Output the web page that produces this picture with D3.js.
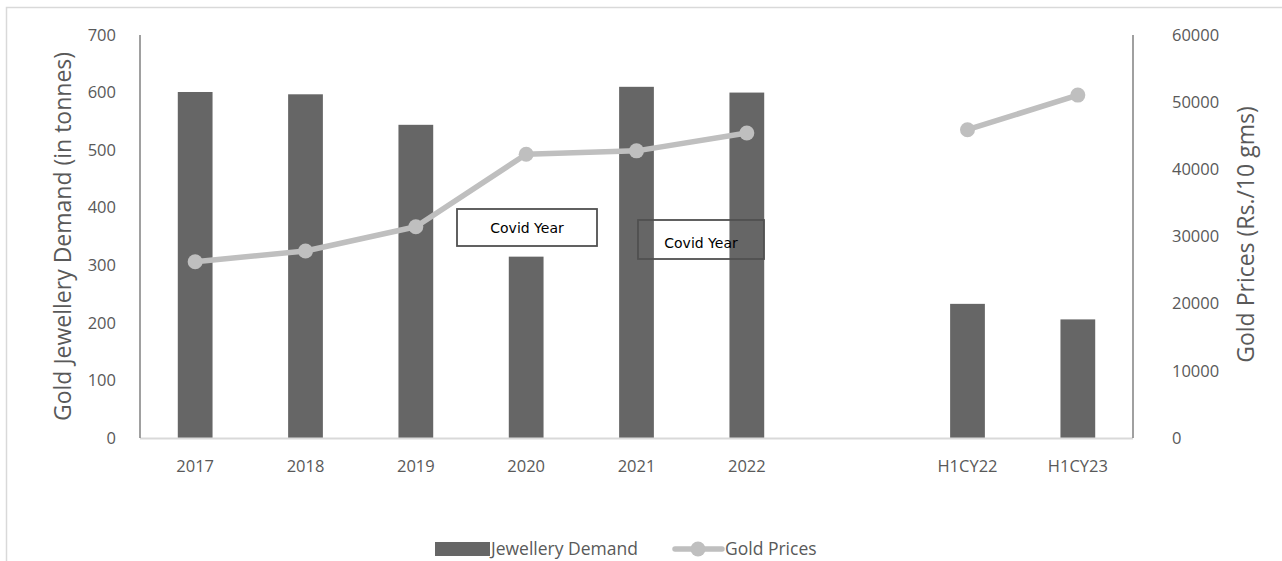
<!DOCTYPE html>
<html>
<head>
<meta charset="utf-8">
<script src="https://cdn.jsdelivr.net/npm/d3@7/dist/d3.min.js"></script>
<style>
  html, body { margin: 0; padding: 0; background: #fff; }
  svg { display: block; font-family: "Open Sans", sans-serif; }
</style>
</head>
<body>
<svg id="chart" width="1282" height="561"></svg>
<script>
// Gold jewellery demand (tonnes) and gold prices (Rs./10 gms)
const categories = ["2017", "2018", "2019", "2020", "2021", "2022", "", "H1CY22", "H1CY23"];
const demand = [601, 597, 544, 315, 610, 600, null, 233, 206];
const prices = [26250, 27850, 31450, 42250, 42750, 45400, null, 45900, 51050];
const demandTicks = [0, 100, 200, 300, 400, 500, 600, 700];
const priceTicks = [0, 10000, 20000, 30000, 40000, 50000, 60000];
const notes = [
  { label: "Covid Year", x0: 457, x1: 597, y0: 209, y1: 246, fill: "#ffffff", ty: 233 },
  { label: "Covid Year", x0: 638, x1: 764, y0: 220, y1: 259, fill: "none", ty: 248 }
];

const W = 1282, H = 561;
const plot = { left: 140, right: 1133, top: 35, bottom: 438 };
const textColor = "#595959";
const barColor = "#666666";
const lineColor = "#bfbfbf";

const svg = d3.select("#chart");

// outer frame
svg.append("path")
  .attr("d", `M6.5,${H} V7.5 H${W}`)
  .attr("fill", "none").attr("stroke", "#d9d9d9").attr("stroke-width", 1.5);

const x = d3.scaleBand()
  .domain(categories.map((c, i) => i))
  .range([plot.left, plot.right])
  .paddingInner(0.685)
  .paddingOuter(0.3425);

const yL = d3.scaleLinear().domain([0, 700]).range([plot.bottom, plot.top]);
const yR = d3.scaleLinear().domain([0, 60000]).range([plot.bottom, plot.top]);

const cx = i => x(i) + x.bandwidth() / 2;

// bars
svg.append("g").selectAll("rect")
  .data(demand.map((v, i) => ({ v, i })).filter(d => d.v != null))
  .join("rect")
  .attr("x", d => x(d.i))
  .attr("width", x.bandwidth())
  .attr("y", d => yL(d.v))
  .attr("height", d => yL(0) - yL(d.v))
  .attr("fill", barColor);

// baseline
svg.append("line")
  .attr("x1", plot.left).attr("x2", plot.right)
  .attr("y1", plot.bottom + 0.5).attr("y2", plot.bottom + 0.5)
  .attr("stroke", "#d9d9d9").attr("stroke-width", 2);

// vertical axis lines
[plot.left, plot.right].forEach(px => {
  svg.append("line")
    .attr("x1", px).attr("x2", px)
    .attr("y1", plot.top).attr("y2", plot.bottom)
    .attr("stroke", "#808080").attr("stroke-width", 1.5);
});

// left axis
const axL = svg.append("g")
  .attr("transform", `translate(${plot.left},0)`)
  .call(d3.axisLeft(yL).tickValues(demandTicks).tickSize(0).tickPadding(24).tickFormat(d3.format("d")));
axL.select(".domain").remove();
axL.selectAll("text").attr("fill", textColor).attr("font-size", 16.5).attr("font-family", "Open Sans");

// right axis
const axR = svg.append("g")
  .attr("transform", `translate(${plot.right},0)`)
  .call(d3.axisRight(yR).tickValues(priceTicks).tickSize(0).tickPadding(39).tickFormat(d3.format("d")));
axR.select(".domain").remove();
axR.selectAll("text").attr("fill", textColor).attr("font-size", 16.5).attr("font-family", "Open Sans");

// category axis
const axB = svg.append("g")
  .attr("transform", `translate(0,${plot.bottom})`)
  .call(d3.axisBottom(x).tickSize(0).tickPadding(22).tickFormat(i => categories[i]));
axB.select(".domain").remove();
axB.selectAll("text").attr("fill", textColor).attr("font-size", 16.5).attr("font-family", "Open Sans");

// price line (broken at the empty slot)
const line = d3.line()
  .defined(d => d.v != null)
  .x(d => cx(d.i))
  .y(d => yR(d.v));
const pts = prices.map((v, i) => ({ v, i }));
svg.append("path")
  .datum(pts)
  .attr("d", line)
  .attr("fill", "none")
  .attr("stroke", lineColor)
  .attr("stroke-width", 5.5)
  .attr("stroke-linejoin", "round");
svg.append("g").selectAll("circle")
  .data(pts.filter(d => d.v != null))
  .join("circle")
  .attr("cx", d => cx(d.i))
  .attr("cy", d => yR(d.v))
  .attr("r", 7.5)
  .attr("fill", lineColor);

// annotation boxes
const ann = svg.append("g").selectAll("g").data(notes).join("g");
ann.append("rect")
  .attr("x", d => d.x0).attr("y", d => d.y0)
  .attr("width", d => d.x1 - d.x0).attr("height", d => d.y1 - d.y0)
  .attr("fill", d => d.fill)
  .attr("stroke", "#505050").attr("stroke-width", 1.8);
ann.append("text")
  .attr("x", d => (d.x0 + d.x1) / 2)
  .attr("y", d => d.ty)
  .attr("text-anchor", "middle")
  .attr("font-family", "DejaVu Sans")
  .attr("font-size", 14)
  .attr("fill", "#000")
  .text(d => d.label);

// axis titles
svg.append("text")
  .attr("transform", `translate(71,${(plot.top + plot.bottom) / 2}) rotate(-90)`)
  .attr("text-anchor", "middle")
  .attr("fill", textColor).attr("font-size", 23)
  .text("Gold Jewellery Demand (in tonnes)");
svg.append("text")
  .attr("transform", `translate(1254,${(plot.top + plot.bottom) / 2 - 2}) rotate(-90)`)
  .attr("text-anchor", "middle")
  .attr("fill", textColor).attr("font-size", 23)
  .text("Gold Prices (Rs./10 gms)");

// legend
const lg = svg.append("g").attr("transform", "translate(0,549)");
lg.append("rect").attr("x", 435).attr("y", -7).attr("width", 55).attr("height", 14).attr("fill", barColor);
lg.append("text").attr("x", 491).attr("y", 0).attr("dy", "0.35em")
  .attr("fill", textColor).attr("font-size", 17.5).text("Jewellery Demand");
lg.append("line").attr("x1", 675).attr("x2", 722).attr("y1", 0).attr("y2", 0)
  .attr("stroke", lineColor).attr("stroke-width", 5.5).attr("stroke-linecap", "round");
lg.append("circle").attr("cx", 698).attr("cy", 0).attr("r", 7.5).attr("fill", lineColor);
lg.append("text").attr("x", 725).attr("y", 0).attr("dy", "0.35em")
  .attr("fill", textColor).attr("font-size", 17.5).text("Gold Prices");
</script>
</body>
</html>
